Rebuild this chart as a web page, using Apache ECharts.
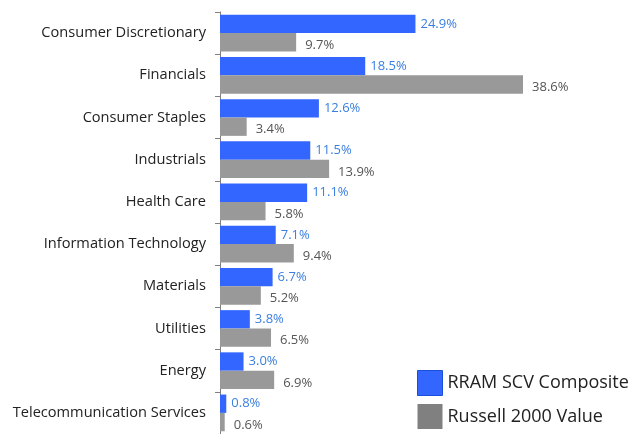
<!DOCTYPE html>
<html lang="en" style="height: 100%">
<head>
    <meta charset="utf-8">
</head>
<body style="height: 100%; margin: 0; overflow: hidden">
<div id="container" style="height: 434px; width: 630px"></div>

<script type="text/javascript" src="https://cdn.jsdelivr.net/npm/echarts@6/dist/echarts.min.js"></script>

<script type="text/javascript">
    // 行业权重对比
    var sectors = ['Consumer Discretionary', 'Financials', 'Consumer Staples', 'Industrials',
      'Health Care', 'Information Technology', 'Materials', 'Utilities', 'Energy',
      'Telecommunication Services'];
    var rramScv = [24.9, 18.5, 12.6, 11.5, 11.1, 7.1, 6.7, 3.8, 3.0, 0.8];
    var russell2000 = [9.7, 38.6, 3.4, 13.9, 5.8, 9.4, 5.2, 6.5, 6.9, 0.6];
    var seriesNames = ['RRAM SCV Composite', 'Russell 2000 Value'];

    var dom = document.getElementById('container');
    var myChart = echarts.init(dom, null, { renderer: 'canvas' });

    var option = {
      animation: false,
      textStyle: { fontFamily: 'Open Sans' },
      legend: {
        orient: 'vertical',
        left: 417,
        top: 370,
        padding: 0,
        icon: 'rect',
        itemWidth: 25,
        itemHeight: 25,
        itemGap: 8,
        textStyle: { fontSize: 18, color: '#222', fontFamily: 'Open Sans' },
        data: [
          { name: seriesNames[0], itemStyle: { color: '#3366ff', borderColor: '#1a4fd6', borderWidth: 1 } },
          { name: seriesNames[1], itemStyle: { color: '#808080' } }
        ]
      },
      grid: { left: 220, right: 17.5, top: 12, bottom: -4 },
      xAxis: {
        type: 'value',
        min: 0,
        max: 50,
        show: false
      },
      yAxis: {
        type: 'category',
        inverse: true,
        data: sectors,
        axisLine: { lineStyle: { color: '#808080', width: 1 } },
        axisTick: { show: true, length: 5, lineStyle: { color: '#808080' } },
        axisLabel: { fontSize: 14.6, color: '#222', margin: 14, fontFamily: 'Open Sans' }
      },
      series: [
        {
          name: seriesNames[0],
          type: 'bar',
          data: rramScv,
          barGap: '0%',
          barCategoryGap: '13%',
          itemStyle: { color: '#3366ff' },
          label: {
            show: true,
            position: 'right',
            distance: 5,
            color: '#3a7fe0',
            fontSize: 13,
            formatter: function (p) { return p.value.toFixed(1) + '%'; }
          }
        },
        {
          name: seriesNames[1],
          type: 'bar',
          data: russell2000,
          itemStyle: { color: '#999999' },
          label: {
            show: true,
            position: 'right',
            distance: 9,
            offset: [0, 3],
            color: '#555',
            fontSize: 13,
            formatter: function (p) { return p.value.toFixed(1) + '%'; }
          }
        }
      ]
    };

    myChart.setOption(option);
    window.addEventListener('resize', myChart.resize);
</script>
</body>
</html>
